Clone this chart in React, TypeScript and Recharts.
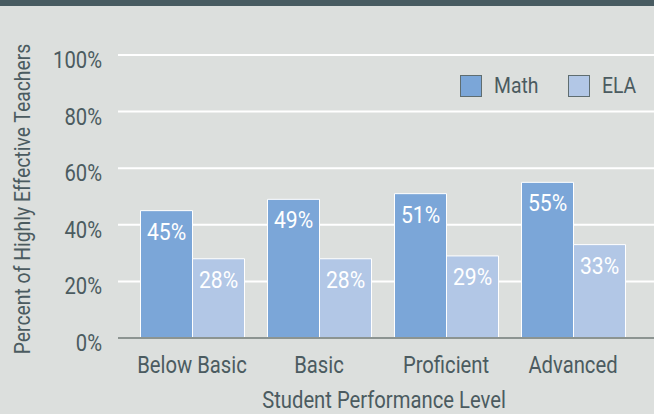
import * as React from 'react';
import { BarChart, Bar, XAxis, YAxis, CartesianGrid, LabelList, Customized } from 'recharts';

const levels = ['Below Basic', 'Basic', 'Proficient', 'Advanced'];
const mathValues = [45, 49, 51, 55];
const elaValues = [28, 28, 29, 33];
const yTicks = [0, 20, 40, 60, 80, 100];

// no condensed face is installed, so squeeze Roboto horizontally
const FONT = 'Roboto, "Noto Sans", sans-serif';
const SX = 0.88;
const TEXT = '#4b5b60';
const MATH = '#7ba6d8';
const ELA = '#b2c7e6';
const BG = '#dcdfdd';

const data = levels.map((level, i) => ({
  level,
  math: mathValues[i],
  ela: elaValues[i]
}));

const CText = ({ x, y, size, anchor = 'middle', fill = TEXT, rotate = 0, children }) => (
  <text
    x={0}
    y={0}
    transform={`translate(${x},${y}) rotate(${rotate}) scale(${SX},1)`}
    textAnchor={anchor}
    dominantBaseline="central"
    fill={fill}
    fontSize={size}
    fontFamily={FONT}
  >
    {children}
  </text>
);

const renderValue = props => {
  const { x, y, width, value } = props;
  return (
    <CText x={x + width / 2} y={y + 21} size={24} fill="#ffffff">
      {`${value}%`}
    </CText>
  );
};

const YTick = props => {
  const { x, y, payload } = props;
  return (
    <CText x={x} y={y + 5} size={23} anchor="end">
      {`${payload.value}%`}
    </CText>
  );
};

const XTick = props => {
  const { x, y, payload } = props;
  return (
    <CText x={x} y={y + 9} size={23}>
      {payload.value}
    </CText>
  );
};

const legendItems = [
  { name: 'Math', color: MATH, x: 460 },
  { name: 'ELA', color: ELA, x: 568 }
];

const Extras = () => (
  <g>
    <CText x={23} y={193} size={22} rotate={-90}>
      Percent of Highly Effective Teachers
    </CText>
    <CText x={384} y={394} size={23}>
      Student Performance Level
    </CText>
    {legendItems.map(it => (
      <g key={it.name}>
        <rect x={it.x + 0.5} y={69.5} width={21} height={21} fill={it.color} stroke="#5f6d70" strokeWidth={1} />
        <CText x={it.x + 34} y={80} size={22} anchor="start">
          {it.name}
        </CText>
      </g>
    ))}
  </g>
);

export default function App() {
  return (
    <div style={{ position: 'absolute', left: 0, top: 0, width: 654, height: 414, background: BG }}>
      <div style={{ height: 6, background: '#485b61' }} />
      <BarChart
        width={654}
        height={408}
        data={data}
        margin={{ top: 49, right: 0, bottom: 46, left: 0 }}
        barCategoryGap={12}
        barGap={0}
      >
        <CartesianGrid vertical={false} stroke="#ffffff" strokeWidth={2} />
        <XAxis
          dataKey="level"
          height={30}
          padding={{ left: 10.5, right: 17.5 }}
          tickLine={false}
          tickSize={0}
          tickMargin={18}
          axisLine={{ stroke: '#8c9491', strokeWidth: 2 }}
          tick={<XTick />}
        />
        <YAxis
          width={118}
          domain={[0, 100]}
          ticks={yTicks}
          tickLine={false}
          tickSize={0}
          tickMargin={16}
          axisLine={false}
          tick={<YTick />}
        />
        <Bar dataKey="math" name="Math" fill={MATH} stroke="#ffffff" strokeWidth={1} isAnimationActive={false}>
          <LabelList dataKey="math" content={renderValue} />
        </Bar>
        <Bar dataKey="ela" name="ELA" fill={ELA} stroke="#ffffff" strokeWidth={1} isAnimationActive={false}>
          <LabelList dataKey="ela" content={renderValue} />
        </Bar>
        <Customized component={Extras} />
      </BarChart>
    </div>
  );
}
